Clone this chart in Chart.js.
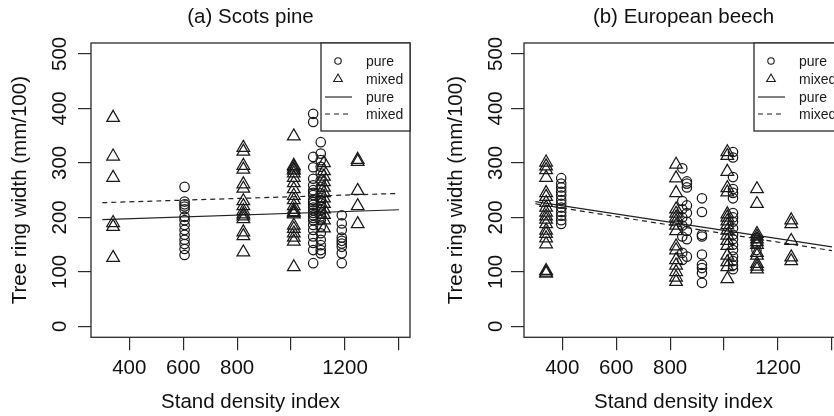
<!DOCTYPE html>
<html><head><meta charset="utf-8">
<script src="https://cdn.jsdelivr.net/npm/chart.js@4.4.1/dist/chart.umd.min.js"></script>
<style>
html,body{margin:0;padding:0;background:#fff;overflow:hidden;width:834px;height:416px;}
#wrap{position:relative;width:834px;height:416px;overflow:hidden;}
canvas{position:absolute;top:0;}
#c1{left:0}
#c2{left:433px}
</style></head><body>
<div id="wrap"><canvas id="c1" width="433" height="416"></canvas><canvas id="c2" width="433" height="416"></canvas></div>
<script>
// ---- axis ticks ----
const xTicks = [400, 600, 800, 1000, 1200, 1400];
const xTickLabels = ['400', '600', '800', '', '1200', ''];
const yTicks = [0, 100, 200, 300, 400, 500];
const panelTitles = ['(a) Scots pine', '(b) European beech'];
const legendLabels = ['pure', 'mixed', 'pure', 'mixed'];

// ---- (a) Scots pine: stand density index and ring widths ----
const pinePureStands = [605, 1082, 1110, 1188];
const pinePureWidths = [
  [256, 229, 224, 220, 215, 201, 195, 186, 177, 168, 159, 151, 142, 131],
  [390, 375, 311, 292, 271, 259, 250, 245, 241, 232, 228, 223, 218, 213, 208, 204, 199, 195, 186, 177, 165, 153, 140, 116],
  [338, 317, 305, 293, 281, 268, 256, 244, 236, 232, 226, 220, 214, 207, 202, 195, 183, 171, 159, 149, 140, 134],
  [204, 189, 177, 163, 157, 152, 146, 134, 116]
];
const pineMixedStands = [340, 823, 1010, 1122, 1247];
const pineMixedWidths = [
  [383, 312, 273, 190, 183, 126],
  [328, 321, 295, 288, 261, 253, 230, 221, 212, 206, 202, 197, 173, 166, 136],
  [349, 295, 292, 288, 286, 281, 273, 263, 252, 240, 232, 221, 214, 210, 208, 206, 185, 179, 171, 163, 156, 109],
  [300, 285, 275, 265, 255, 245, 235, 225, 215, 205, 195, 180],
  [306, 302, 249, 221, 188]
];
const pineFitX = [300, 1400];
const pineFitPure = [196, 214];
const pineFitMixed = [227, 244];

// ---- (b) European beech ----
const beechPureStands = [396, 845, 862, 918, 1033, 1120];
const beechPureWidths = [
  [272, 262, 255, 247, 240, 232, 225, 218, 210, 203, 195, 188],
  [290, 230, 215, 200, 185, 165, 135, 122],
  [266, 262, 255, 222, 208, 192, 175, 160, 128],
  [235, 210, 168, 165, 132, 113, 107, 98, 80],
  [320, 310, 274, 252, 245, 235, 208, 200, 192, 180, 168, 160, 150, 140, 128, 120, 112, 105],
  [162, 152, 140]
];
const beechMixedStands = [340, 822, 1012, 1122, 1249];
const beechMixedWidths = [
  [301, 294, 287, 273, 245, 238, 227, 218, 209, 202, 196, 188, 176, 170, 162, 151, 102, 99, 97],
  [297, 272, 245, 215, 207, 200, 193, 185, 175, 147, 140, 122, 112, 100, 90, 82],
  [320, 313, 284, 254, 246, 206, 200, 193, 186, 176, 167, 157, 148, 130, 118, 109, 87],
  [252, 225, 170, 165, 160, 155, 150, 135, 130, 115, 110, 105],
  [195, 188, 157, 127, 120]
];
const beechFitX = [300, 1400];
const beechFitPure = [229, 146];
const beechFitMixed = [225, 139];

// ---- helpers ----
const FONT = '"Liberation Sans", Arial, Helvetica, sans-serif';
const INK = '#1a1a1a';
function toPoints(stands, widths) {
  const out = [];
  stands.forEach((s, i) => widths[i].forEach(w => out.push({x: s, y: w})));
  return out;
}
function toLine(xs, ys) { return xs.map((x, i) => ({x: x, y: ys[i]})); }

const framePlugin = {
  id: 'frameLegend',
  afterDatasetsDraw(chart) {
    const {ctx, chartArea: a} = chart;
    ctx.save();
    ctx.strokeStyle = '#2a2a2a';
    ctx.lineWidth = 1.3;
    ctx.strokeRect(a.left, a.top, a.right - a.left, a.bottom - a.top);
    // legend box (top right)
    const W = 89, H = 88, L = a.right - W, T = a.top;
    ctx.fillStyle = '#fff';
    ctx.fillRect(L, T, W, H);
    ctx.strokeRect(L, T, W, H);
    const rows = [T + 18, T + 36, T + 54, T + 71];
    const sx = L + 17;
    ctx.strokeStyle = INK; ctx.lineWidth = 1.1;
    // circle
    ctx.beginPath(); ctx.arc(sx, rows[0], 3.2, 0, Math.PI * 2); ctx.stroke();
    // triangle
    const r = 5;
    ctx.beginPath();
    ctx.moveTo(sx, rows[1] - r);
    ctx.lineTo(sx + r * 0.866, rows[1] + r / 2);
    ctx.lineTo(sx - r * 0.866, rows[1] + r / 2);
    ctx.closePath(); ctx.stroke();
    // lines
    ctx.beginPath(); ctx.moveTo(L + 4, rows[2]); ctx.lineTo(L + 31, rows[2]); ctx.stroke();
    ctx.setLineDash([5, 4]);
    ctx.beginPath(); ctx.moveTo(L + 4, rows[3]); ctx.lineTo(L + 31, rows[3]); ctx.stroke();
    ctx.setLineDash([]);
    ctx.fillStyle = INK;
    ctx.font = '14px ' + FONT;
    ctx.textBaseline = 'middle';
    ctx.textAlign = 'left';
    legendLabels.forEach((t, i) => ctx.fillText(t, L + 45, rows[i] + 1));
    ctx.restore();
  }
};

function makeChart(id, title, pure, mixed, fitPure, fitMixed, cfg) {
  const font = {family: FONT, size: 20.5, weight: 'normal'};
  return new Chart(document.getElementById(id), {
    type: 'scatter',
    data: {datasets: [
      {label: 'pure', data: pure, pointStyle: 'circle', pointRadius: 4.7, pointHoverRadius: 4.7,
       borderColor: INK, backgroundColor: 'rgba(0,0,0,0)', borderWidth: 1.25},
      {label: 'mixed', data: mixed, pointStyle: 'triangle', pointRadius: 7.3, pointHoverRadius: 7.3,
       borderColor: INK, backgroundColor: 'rgba(0,0,0,0)', borderWidth: 1.25},
      {label: 'pure fit', data: fitPure, showLine: true, pointRadius: 0, borderColor: '#222', borderWidth: 1.2, fill: false},
      {label: 'mixed fit', data: fitMixed, showLine: true, pointRadius: 0, borderColor: '#222', borderWidth: 1.2, borderDash: [5, 4], fill: false}
    ]},
    options: {
      responsive: false, animation: false, devicePixelRatio: 1,
      layout: {padding: {left: 0, right: 23, top: 0, bottom: 0}},
      plugins: {
        legend: {display: false}, tooltip: {enabled: false},
        title: {display: true, text: title, fullSize: false, color: '#111', font: font, padding: {top: 4.6, bottom: 13.8}}
      },
      scales: {
        x: {
          type: 'linear', min: 258, max: 1441,
          afterBuildTicks(s) { s.ticks = xTicks.map(v => ({value: v})); },
          afterFit(s) { s.height = 78.7; },
          grid: {display: true, drawOnChartArea: false, drawTicks: true, tickLength: 13, color: '#2a2a2a', lineWidth: 1.2},
          border: {display: false},
          ticks: {autoSkip: false, maxRotation: 0, minRotation: 0, padding: 5.9, color: '#111', font: font,
                  callback: (v, i) => xTickLabels[i]},
          title: {display: true, text: 'Stand density index', color: '#111', font: font, padding: {top: 0, bottom: 1.2}}
        },
        y: {
          type: 'linear', min: -20, max: 520,
          afterBuildTicks(s) { s.ticks = yTicks.map(v => ({value: v})); },
          afterFit(s) { s.width = 91; },
          grid: {display: true, drawOnChartArea: false, drawTicks: true, tickLength: 13, color: '#2a2a2a', lineWidth: 1.2},
          border: {display: false},
          ticks: {autoSkip: false, minRotation: 90, maxRotation: 90, crossAlign: 'center', padding: cfg.yTickPad,
                  color: '#111', font: font, callback: v => String(v)},
          title: {display: true, text: 'Tree ring width (mm/100)', color: '#111', font: font, padding: {top: cfg.yTitlePad, bottom: 0}}
        }
      }
    },
    plugins: [framePlugin]
  });
}

makeChart('c1', panelTitles[0],
  toPoints(pinePureStands, pinePureWidths), toPoints(pineMixedStands, pineMixedWidths),
  toLine(pineFitX, pineFitPure), toLine(pineFitX, pineFitMixed),
  {yTickPad: 0.9, yTitlePad: 7.9});
makeChart('c2', panelTitles[1],
  toPoints(beechPureStands, beechPureWidths), toPoints(beechMixedStands, beechMixedWidths),
  toLine(beechFitX, beechFitPure), toLine(beechFitX, beechFitMixed),
  {yTickPad: -2.1, yTitlePad: 11.2});
</script>
</body></html>
